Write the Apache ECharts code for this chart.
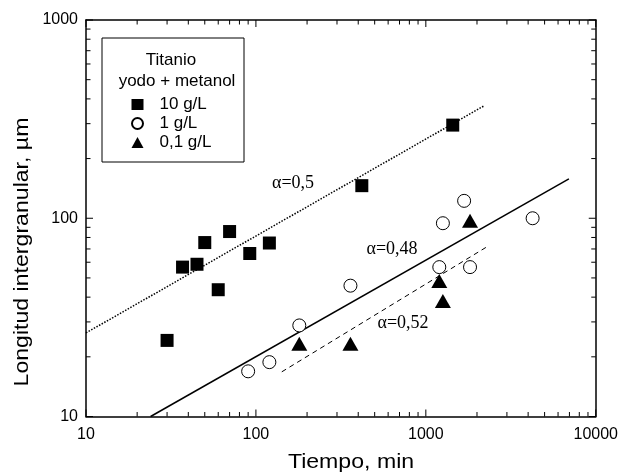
<!DOCTYPE html>
<html><head><meta charset="utf-8">
<script src="https://cdn.jsdelivr.net/npm/echarts@6/dist/echarts.min.js"></script>
<style>html,body{margin:0;padding:0;background:#fff}#c{width:621px;height:474px}</style>
</head><body><div id="c"></div>
<script>
// ---- data ----
const seriesNames = ['10 g/L', '1 g/L', '0,1 g/L'];
const time10 = [30, 37, 45, 50, 60, 70, 92, 120, 420, 1440];
const len10  = [24.2, 56.7, 58.6, 75.4, 43.6, 85.7, 66.4, 75.0, 146, 295];
const time1  = [90, 120, 180, 360, 1200, 1260, 1680, 1820, 4250];
const len1   = [16.9, 18.8, 28.8, 45.7, 56.7, 94.4, 122.4, 56.7, 100];
const time01 = [180, 360, 1200, 1260, 1820];
const len01  = [23.3, 23.3, 48.2, 38.2, 97];
// fitted power-law lines (end points)
const fitTime05  = [10, 2190];
const fitLen05   = [26.4, 368];
const fitTime048 = [24, 6950];
const fitLen048  = [10, 158];
const fitTime052 = [142, 2290];
const fitLen052  = [16.8, 71.8];
const fitLabels = ['\u03B1=0,5', '\u03B1=0,48', '\u03B1=0,52'];
// axis ticks
const xMajorTicks = [10, 100, 1000, 10000];
const xMinorTicks = [20, 30, 40, 50, 60, 70, 80, 90, 200, 300, 400, 500, 600, 700, 800, 900,
                     2000, 3000, 4000, 5000, 6000, 7000, 8000, 9000];
const yMajorTicks = [10, 100, 1000];
const yMinorTicks = [20, 30, 40, 50, 60, 70, 80, 90, 200, 300, 400, 500, 600, 700, 800, 900];
const xTitle = 'Tiempo, min';
const yTitle = 'Longitud intergranular, \u00B5m';
const legendTitle1 = 'Titanio';
const legendTitle2 = 'yodo + metanol';

const X_MIN = 10, X_MAX = 10000, Y_MIN = 10, Y_MAX = 1000;
const zip = (a, b) => a.map((v, i) => [v, b[i]]);
const SANS = 'Liberation Sans, Arial, sans-serif';
const SERIF = 'Liberation Serif, Times New Roman, serif';
const MAJOR_LEN = 7, MINOR_LEN = 4.5;

function logAxis(min, max, pos, showLabel, margin) {
  return {
    type: 'log', logBase: 10, min: min, max: max, position: pos,
    gridIndex: 0,
    axisLine: { show: true, onZero: false, lineStyle: { color: '#000', width: 1.5 } },
    axisTick: { show: false },
    minorTick: { show: false },
    axisLabel: { show: showLabel, color: '#000', fontSize: 16, fontFamily: SANS, margin: margin,
                 formatter: v => String(Math.round(v)) },
    splitLine: { show: false }
  };
}

const xTickData = xMajorTicks.map(v => [v, Y_MIN, 1]).concat(xMinorTicks.map(v => [v, Y_MIN, 0]));
const yTickData = yMajorTicks.map(v => [X_MIN, v, 1]).concat(yMinorTicks.map(v => [X_MIN, v, 0]));

// one custom series per frame edge, each tick is one line element
function tickSeries(name, data, edge) {
  return {
    type: 'custom', name: name, data: data, z: 10,
    renderItem: function (params, api) {
      const len = api.value(2) ? MAJOR_LEN : MINOR_LEN;
      let p, x2, y2;
      if (edge === 'bottom') { p = api.coord([api.value(0), Y_MIN]); x2 = p[0]; y2 = p[1] - len; }
      else if (edge === 'top') { p = api.coord([api.value(0), Y_MAX]); x2 = p[0]; y2 = p[1] + len; }
      else if (edge === 'left') { p = api.coord([X_MIN, api.value(1)]); x2 = p[0] + len; y2 = p[1]; }
      else { p = api.coord([X_MAX, api.value(1)]); x2 = p[0] - len; y2 = p[1]; }
      return { type: 'line', shape: { x1: p[0], y1: p[1], x2: x2, y2: y2 },
               style: { stroke: '#000', lineWidth: 1 } };
    }
  };
}

const chart = echarts.init(document.getElementById('c'));
chart.setOption({
  animation: false,
  backgroundColor: '#fff',
  grid: { left: 86, right: 22, top: 20, bottom: 57.5, containLabel: false },
  xAxis: [ logAxis(X_MIN, X_MAX, 'bottom', true, 10), logAxis(X_MIN, X_MAX, 'top', false, 8) ],
  yAxis: [ logAxis(Y_MIN, Y_MAX, 'left', true, 8), logAxis(Y_MIN, Y_MAX, 'right', false, 8) ],
  legend: {
    data: seriesNames,
    orient: 'vertical',
    left: 131, top: 95, padding: 0,
    itemWidth: 12, itemHeight: 11, itemGap: 0,
    textStyle: { color: '#000', fontSize: 17, lineHeight: 19, fontFamily: SANS, padding: [0, 0, 0, 11] },
    selectedMode: false
  },
  graphic: [
    { type: 'rect', shape: { x: 102, y: 38, width: 142, height: 124 },
      style: { fill: 'none', stroke: '#000', lineWidth: 1 }, z: 100 },
    { type: 'text', x: 171, y: 60, z: 100,
      style: { text: legendTitle1, fill: '#000', font: '17px ' + SANS, textAlign: 'center', textVerticalAlign: 'middle' } },
    { type: 'text', x: 177, y: 81, z: 100,
      style: { text: legendTitle2, fill: '#000', font: '17px ' + SANS, textAlign: 'center', textVerticalAlign: 'middle' } },
    { type: 'text', x: 293, y: 183, z: 100,
      style: { text: fitLabels[0], fill: '#000', font: '18px ' + SERIF, textAlign: 'center', textVerticalAlign: 'middle' } },
    { type: 'text', x: 392, y: 249, z: 100,
      style: { text: fitLabels[1], fill: '#000', font: '18px ' + SERIF, textAlign: 'center', textVerticalAlign: 'middle' } },
    { type: 'text', x: 403, y: 323, z: 100,
      style: { text: fitLabels[2], fill: '#000', font: '18px ' + SERIF, textAlign: 'center', textVerticalAlign: 'middle' } },
    { type: 'text', x: 351, y: 462, scaleX: 1.1, z: 100,
      style: { text: xTitle, fill: '#000', font: '21px ' + SANS, textAlign: 'center', textVerticalAlign: 'middle' } },
    { type: 'text', x: 22, y: 252, rotation: Math.PI / 2, scaleX: 1.1, z: 100,
      style: { text: yTitle, fill: '#000', font: '21px ' + SANS, textAlign: 'center', textVerticalAlign: 'middle' } }
  ],
  series: [
    tickSeries('xTicksBottom', xTickData, 'bottom'),
    tickSeries('xTicksTop', xTickData, 'top'),
    tickSeries('yTicksLeft', yTickData, 'left'),
    tickSeries('yTicksRight', yTickData, 'right'),
    { type: 'line', name: 'fit05', data: zip(fitTime05, fitLen05), symbol: 'none', z: 1,
      lineStyle: { color: '#000', width: 1.5, type: [1.5, 1.5] } },
    { type: 'line', name: 'fit048', data: zip(fitTime048, fitLen048), symbol: 'none', z: 1,
      lineStyle: { color: '#000', width: 1.5, type: 'solid' } },
    { type: 'line', name: 'fit052', data: zip(fitTime052, fitLen052), symbol: 'none', z: 1,
      lineStyle: { color: '#000', width: 1, type: [5, 4] } },
    { type: 'scatter', name: seriesNames[0], data: zip(time10, len10), symbol: 'rect', symbolSize: 13, z: 5,
      itemStyle: { color: '#000', opacity: 1 } },
    { type: 'scatter', name: seriesNames[1], data: zip(time1, len1), symbol: 'circle', symbolSize: 13, z: 5,
      itemStyle: { color: '#fff', borderColor: '#000', borderWidth: 1, opacity: 1 } },
    { type: 'scatter', name: seriesNames[2], data: zip(time01, len01), symbol: 'triangle', symbolSize: [16, 14], z: 5,
      itemStyle: { color: '#000', opacity: 1 } }
  ]
});
</script>
</body></html>
